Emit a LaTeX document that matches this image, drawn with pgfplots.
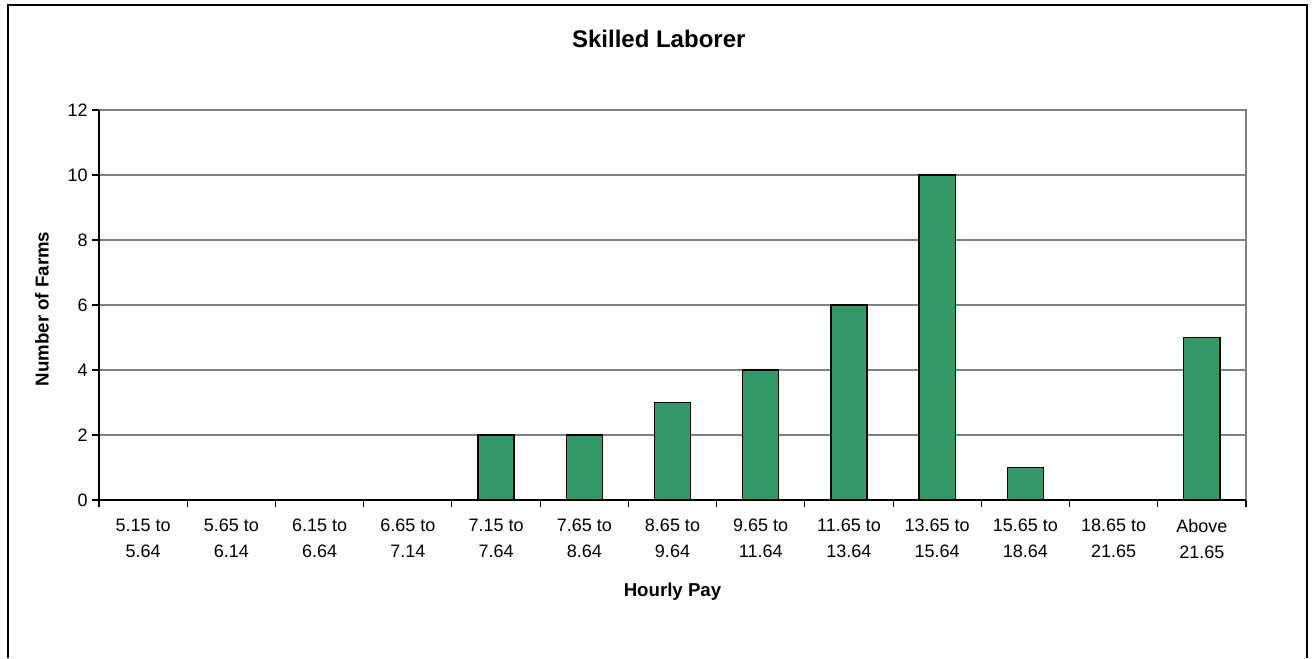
\documentclass[border=0pt]{standalone}
\usepackage{pgfplots}
\pgfplotsset{compat=1.18}
\usepackage{fontspec}
\setmainfont{Liberation Sans}
\definecolor{barg}{RGB}{51,153,102}
\definecolor{gridg}{RGB}{128,128,128}
\begin{document}
\begin{tikzpicture}[x=0.75pt,y=0.75pt]
\path[use as bounding box] (0,0) rectangle (1312,658);
\draw[black, line width=1.2pt] (8,0) -- (8,653) -- (1307,653) -- (1307,0);
\begin{axis}[
  at={(99*0.75pt,158*0.75pt)}, anchor=south west,
  scale only axis,
  width=860.25pt, height=292.5pt,
  xmin=-0.5, xmax=12.5,
  ymin=0, ymax=12,
  ytick={0,2,4,6,8,10,12},
  xtick={0,1,2,3,4,5,6,7,8,9,10,11,12},
  xticklabels={{5.15 to\\5.64},{5.65 to\\6.14},{6.15 to\\6.64},{6.65 to\\7.14},{7.15 to\\7.64},{7.65 to\\8.64},{8.65 to\\9.64},{9.65 to\\11.64},{11.65 to\\13.64},{13.65 to\\15.64},{15.65 to\\18.64},{18.65 to\\21.65},{Above\\21.65}},
  minor xtick={-0.5,0.5,...,12.5},
  major x tick style={draw=none},
  minor x tick style={black, line width=0.8pt},
  y tick style={black, line width=0.8pt},
  tick align=outside,
  minor tick length=5.5pt,
  major tick length=5pt,
  xtick pos=bottom, ytick pos=left,
  ymajorgrids,
  grid style={gridg, line width=0.8pt},
  axis line style={draw=none},
  xticklabel style={align=center, font=\fontsize{13.5}{19.5}\selectfont, yshift=-6pt},
  yticklabel style={font=\fontsize{13.5}{16}\selectfont},
  /pgf/number format/assume math mode=true,
  title={\textbf{Skilled Laborer}},
  title style={at={(axis description cs:0.488,1.162)}, anchor=center, font=\fontsize{18}{21}\selectfont},
  xlabel={\textbf{Hourly Pay}},
  xlabel style={at={(axis description cs:0.5,-0.236)}, anchor=center, font=\fontsize{14}{17}\selectfont},
  ylabel={\textbf{Number of Farms}},
  ylabel style={at={(axis description cs:-0.0497,0.49)}, anchor=center, rotate=0, font=\fontsize{14}{17}\selectfont},
  clip=false,
]
\draw[gridg, line width=0.8pt] (axis cs:-0.5,12) -- (axis cs:12.5,12) -- (axis cs:12.5,0);
\addplot[ybar, bar width=0.41, fill=barg, draw=black, line width=1pt] coordinates {
(0,0) (1,0) (2,0) (3,0) (4,2) (5,2) (6,3) (7,4) (8,6) (9,10) (10,1) (11,0) (12,5)
};
\draw[black, line width=1pt] (axis cs:-0.5,0) -- (axis cs:-0.5,12);
\draw[black, line width=1pt] (axis cs:-0.5,0) -- (axis cs:12.5,0);
\end{axis}
\end{tikzpicture}
\end{document}
